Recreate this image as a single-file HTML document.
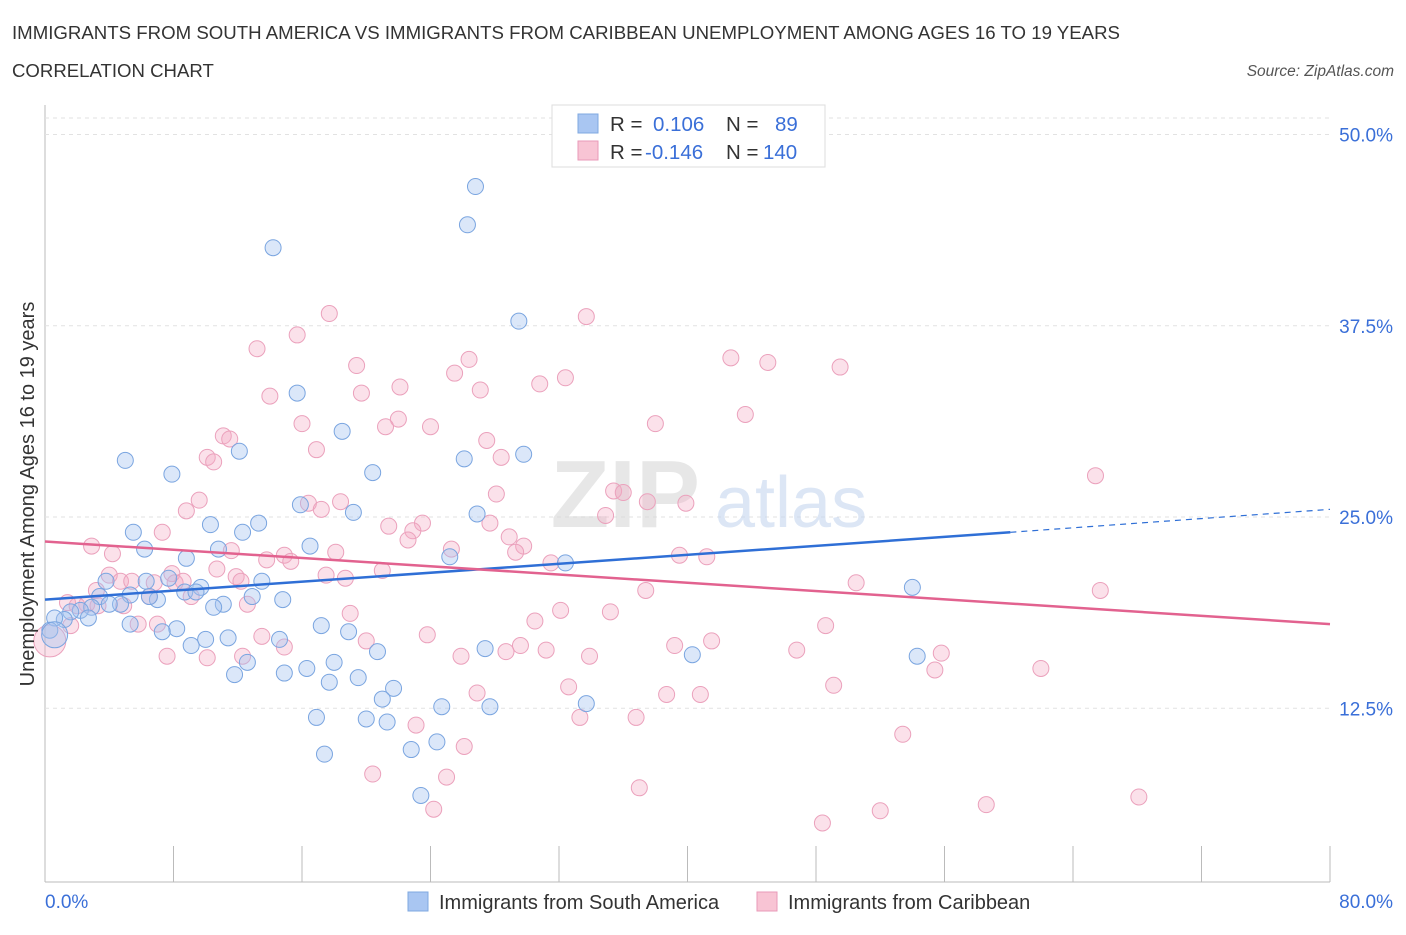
<!DOCTYPE html>
<html><head><meta charset="utf-8"><style>
body{margin:0;background:#fff;font-family:"Liberation Sans",sans-serif;}
svg text{font-family:"Liberation Sans",sans-serif;}
</style></head><body>
<svg id="chart" width="1406" height="930">
<text x="12" y="39" font-size="18.6" fill="#333" textLength="1108" lengthAdjust="spacingAndGlyphs">IMMIGRANTS FROM SOUTH AMERICA VS IMMIGRANTS FROM CARIBBEAN UNEMPLOYMENT AMONG AGES 16 TO 19 YEARS</text>
<text x="12" y="77" font-size="18.6" fill="#333">CORRELATION CHART</text>
<text x="1394" y="76" font-size="15.5" font-style="italic" fill="#555" text-anchor="end">Source: ZipAtlas.com</text>
<g id="grid"></g>
<text x="700" y="527" font-size="96" font-weight="bold" fill="#d8d8d8" text-anchor="end" opacity="0.6">ZIP</text>
<text x="715" y="527" font-size="72" fill="#c5d6ef" opacity="0.6">atlas</text>
<g id="points"></g>
<g id="trends"></g>
<text transform="translate(34,494) rotate(-90)" font-size="20" fill="#333" text-anchor="middle">Unemployment Among Ages 16 to 19 years</text>
<text x="45" y="908" font-size="19" fill="#3a6fd8">0.0%</text>
<text x="1393" y="908" font-size="19" fill="#3a6fd8" text-anchor="end">80.0%</text>
<g>
<rect x="552" y="105" width="273" height="62" fill="#fff" stroke="#ddd"/>
<rect x="578" y="114" width="20" height="19" fill="#a9c6f2" stroke="#7fa8e0"/>
<rect x="578" y="141" width="20" height="19" fill="#f8c4d4" stroke="#e99ab8"/>
<text x="610" y="131" font-size="20.5" fill="#333">R =</text>
<text x="653" y="131" font-size="20.5" fill="#3a6fd8">0.106</text>
<text x="726" y="131" font-size="20.5" fill="#333">N =</text>
<text x="775" y="131" font-size="20.5" fill="#3a6fd8">89</text>
<text x="610" y="159" font-size="20.5" fill="#333">R =</text>
<text x="645" y="159" font-size="20.5" fill="#3a6fd8">-0.146</text>
<text x="726" y="159" font-size="20.5" fill="#333">N =</text>
<text x="763" y="159" font-size="20.5" fill="#3a6fd8">140</text>
</g>
<g>
<rect x="408" y="892" width="20" height="19" fill="#a9c6f2" stroke="#7fa8e0"/>
<text x="439" y="909" font-size="20" fill="#333">Immigrants from South America</text>
<rect x="757" y="892" width="20" height="19" fill="#f8c4d4" stroke="#e99ab8"/>
<text x="788" y="909" font-size="20" fill="#333">Immigrants from Caribbean</text>
</g>
</svg>
<script>
const yTicks=[12.5,25,37.5,50];
const yTickLabels=["12.5%","25.0%","37.5%","50.0%"];
const xTicks=[0,8,16,24,32,40,48,56,64,72,80];
const blueX=[26.8,26.3,14.2,29.5,15.7,18.5,5.0,12.1,7.9,20.4,26.1,29.8,15.9,19.2,26.9,10.3,13.3,12.3,5.5,6.2,10.8,16.5,8.8,25.2,32.4,3.8,6.3,7.7,9.7,8.7,13.5,9.4,5.3,3.4,7.0,6.5,14.8,12.9,11.1,10.5,4.7,4.0,2.9,2.2,1.6,2.7,1.2,0.6,0.3,0.6,5.3,8.2,7.3,17.2,18.9,10.0,11.4,14.6,9.1,20.7,27.4,18.0,16.3,14.9,12.6,11.8,17.7,19.5,21.7,40.3,54.3,54.0,21.0,24.7,27.7,33.7,16.9,20.0,21.3,22.8,24.4,17.4,23.4];
const blueY=[46.6,44.1,42.6,37.8,33.1,30.6,28.7,29.3,27.8,27.9,28.8,29.1,25.8,25.3,25.2,24.5,24.6,24.0,24.0,22.9,22.9,23.1,22.3,22.4,22.0,20.8,20.8,21.0,20.4,20.1,20.8,20.1,19.9,19.8,19.6,19.8,19.6,19.8,19.3,19.1,19.3,19.3,19.1,18.9,18.8,18.4,18.3,18.4,17.6,17.3,18.0,17.7,17.5,17.9,17.5,17.0,17.1,17.0,16.6,16.2,16.4,15.5,15.1,14.8,15.5,14.7,14.2,14.5,13.8,16.0,15.9,20.4,13.1,12.6,12.6,12.8,11.9,11.8,11.6,9.8,10.3,9.5,6.8];
const pinkX=[17.7,33.7,15.7,13.2,42.7,45.0,49.5,26.4,19.4,25.5,32.4,30.8,22.1,19.7,27.1,14.0,43.6,38.0,22.0,21.2,24.0,16.0,11.1,11.5,27.5,16.9,10.1,10.5,28.4,65.4,9.6,16.4,28.1,35.4,36.0,18.4,37.5,39.9,17.2,8.8,34.9,27.7,23.5,21.4,22.9,22.6,28.9,7.3,2.9,4.2,11.6,25.3,18.1,29.8,29.3,14.9,15.3,13.8,39.5,41.2,31.5,21.0,4.0,7.9,10.7,11.9,17.5,18.7,12.2,4.7,5.4,8.1,8.6,6.8,65.7,50.5,37.4,3.2,6.5,9.1,1.4,2.6,2.0,4.9,3.3,12.6,32.1,35.2,19.0,30.5,48.6,1.6,5.8,7.0,23.8,13.5,20.0,41.5,39.2,29.6,31.2,14.9,28.7,46.8,12.3,7.6,10.1,25.9,33.9,55.8,55.4,62.0,32.6,49.1,26.9,38.7,40.8,33.3,36.8,23.1,53.4,26.1,20.4,25.0,37.0,68.1,58.6,52.0,24.2,48.4,0.3];
const pinkY=[38.3,38.1,36.9,36.0,35.4,35.1,34.8,35.3,34.9,34.4,34.1,33.7,33.5,33.1,33.3,32.9,31.7,31.1,31.4,30.9,30.9,31.1,30.3,30.1,30.0,29.4,28.9,28.6,28.9,27.7,26.1,25.9,26.5,26.7,26.6,26.0,26.0,25.9,25.5,25.4,25.1,24.6,24.6,24.4,24.1,23.5,23.7,24.0,23.1,22.6,22.8,22.9,22.7,23.1,22.7,22.5,22.1,22.2,22.5,22.4,22.0,21.5,21.2,21.3,21.6,21.1,21.2,21.0,20.8,20.8,20.8,20.7,20.8,20.7,20.2,20.7,20.2,20.2,19.8,19.8,19.4,19.3,19.2,19.2,19.2,19.3,18.9,18.8,18.7,18.2,17.9,17.9,18.0,18.0,17.3,17.2,16.9,16.9,16.6,16.6,16.3,16.5,16.2,16.3,15.9,15.9,15.8,15.9,15.9,16.1,15.0,15.1,13.9,14.0,13.5,13.4,13.4,11.9,11.9,11.4,10.8,10.0,8.2,8.0,7.3,6.7,6.2,5.8,5.9,5.0,16.9];
const blueTrend=[[0,19.6],[60.1,24.0],[80,25.5]];
const pinkTrend=[[0,23.4],[80,18.0]];

const NS="http://www.w3.org/2000/svg";
const X0=45,X1=1330,Y0px=899.5,PPY=15.3;
const xs=v=>X0+(X1-X0)*v/80;
const ys=v=>Y0px-v*PPY;
function mk(tag,attrs,parent){const e=document.createElementNS(NS,tag);for(const k in attrs)e.setAttribute(k,attrs[k]);parent.appendChild(e);return e;}
const gridG=document.getElementById('grid');
const axisY=mk('line',{x1:X0,x2:X0,y1:105,y2:882,stroke:'#bbb'},gridG);


const axisX=mk('line',{x1:X0,x2:X1,y1:882,y2:882,stroke:'#bbb'},gridG);


const topLine=mk('line',{x1:X0,x2:X1,y1:118,y2:118,stroke:'#e2e2e2','stroke-dasharray':'4,4'},gridG);


yTicks.forEach((t,i)=>{
 const g=mk('line',{x1:X0,x2:X1,y1:ys(t),y2:ys(t),stroke:'#e2e2e2','stroke-dasharray':'4,4'},gridG);
 
 
 const tx=mk('text',{x:1393,y:ys(t)+7,'font-size':19,fill:'#3a6fd8','text-anchor':'end'},gridG);
 tx.textContent=yTickLabels[i];
 
 
});
xTicks.forEach(t=>{
 const l=mk('line',{x1:xs(t),x2:xs(t),y1:846,y2:882,stroke:'#bbb'},gridG);
 
 
});
const pts=document.getElementById('points');
pinkX.forEach((x,i)=>{
 const big=(i===pinkX.length-1);
 const c=mk('circle',{cx:xs(x),cy:ys(pinkY[i]),r:big?16:8,fill:'rgba(244,170,195,0.35)',stroke:'#eba1bc','stroke-width':1},pts);
 
 
});
blueX.forEach((x,i)=>{
 const big=(i===49);
 const c=mk('circle',{cx:xs(x),cy:ys(blueY[i]),r:big?13:8,fill:'rgba(164,196,240,0.4)',stroke:'#7aa5e0','stroke-width':1},pts);
 
 
});
const tr=document.getElementById('trends');
const b1=mk('line',{x1:xs(blueTrend[0][0]),y1:ys(blueTrend[0][1]),x2:xs(blueTrend[1][0]),y2:ys(blueTrend[1][1]),stroke:'#2f6fd6','stroke-width':2.5},tr);


const b2=mk('line',{x1:xs(blueTrend[1][0]),y1:ys(blueTrend[1][1]),x2:xs(blueTrend[2][0]),y2:ys(blueTrend[2][1]),stroke:'#2f6fd6','stroke-width':1.2,'stroke-dasharray':'6,5'},tr);


const p1=mk('line',{x1:xs(pinkTrend[0][0]),y1:ys(pinkTrend[0][1]),x2:xs(pinkTrend[1][0]),y2:ys(pinkTrend[1][1]),stroke:'#e2628f','stroke-width':2.5},tr);


</script>
</body></html>
